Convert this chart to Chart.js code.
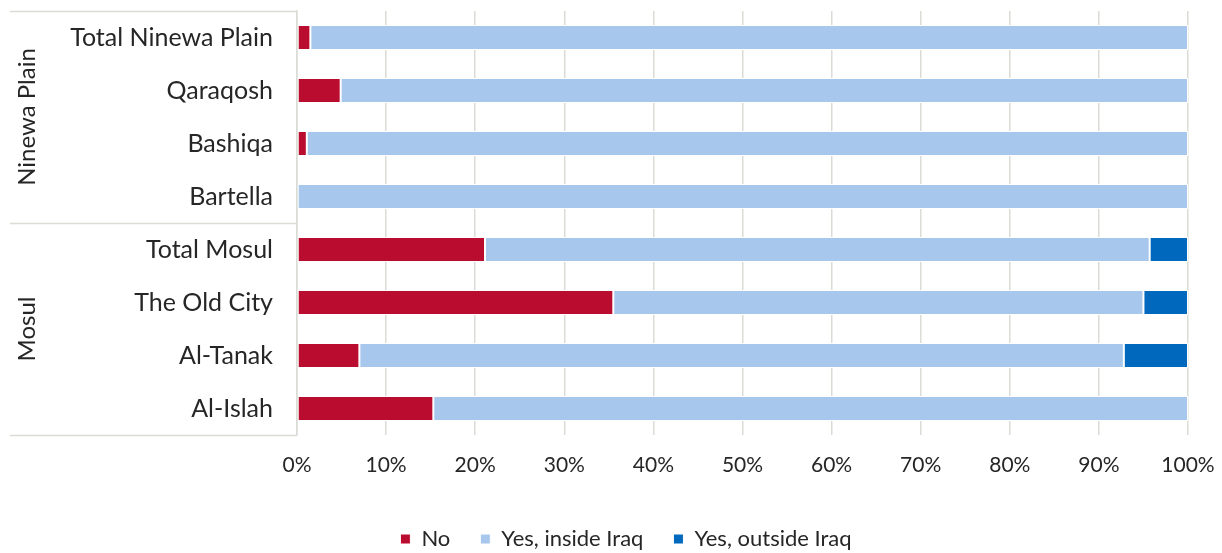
<!DOCTYPE html>
<html>
<head>
<meta charset="utf-8">
<script src="https://cdn.jsdelivr.net/npm/chart.js@4/dist/chart.umd.min.js"></script>
<style>
  html, body { margin: 0; padding: 0; background: #ffffff; }
  #wrap { position: relative; width: 1222px; height: 553px; }
</style>
</head>
<body>
<div id="wrap"><canvas id="c"></canvas></div>
<script>
// ---- data ----
const categories = ['Total Ninewa Plain', 'Qaraqosh', 'Bashiqa', 'Bartella', 'Total Mosul', 'The Old City', 'Al-Tanak', 'Al-Islah'];
const groupNames = ['Ninewa Plain', 'Mosul'];
const groupSizes = [4, 4];
const seriesNames = ['No', 'Yes, inside Iraq', 'Yes, outside Iraq'];
const noValues = [1.5, 4.9, 1.1, 0, 21.1, 35.5, 7.0, 15.3];
const insideValues = [98.5, 95.1, 98.9, 100, 74.6, 59.5, 85.8, 84.7];
const outsideValues = [0, 0, 0, 0, 4.3, 5.0, 7.2, 0];
const xTickValues = [0, 10, 20, 30, 40, 50, 60, 70, 80, 90, 100];

// ---- style ----
const FONT = 'Lato, "Open Sans", sans-serif';
const TEXT = '#262626';
const GRID = '#d9ddd6';
const colors = ['#BA0C2F', '#A8C7EC', '#0068BD'];

const groupPlugin = {
  id: 'groupAxis',
  afterDraw(chart) {
    const ctx = chart.ctx;
    const y = chart.scales.y;
    const left = 10;
    const right = chart.chartArea.left;
    ctx.save();
    ctx.strokeStyle = GRID;
    ctx.lineWidth = 1.5;
    let start = 0;
    const bounds = [start];
    groupSizes.forEach(s => { start += s; bounds.push(start); });
    bounds.forEach(b => {
      const py = Math.round(y.getPixelForValue(b - 0.5)) + 0.5;
      ctx.beginPath();
      ctx.moveTo(left, py);
      ctx.lineTo(right, py);
      ctx.stroke();
    });
    ctx.fillStyle = TEXT;
    ctx.font = '24px ' + FONT;
    ctx.textAlign = 'center';
    ctx.textBaseline = 'middle';
    groupNames.forEach((name, i) => {
      const y0 = y.getPixelForValue(bounds[i] - 0.5);
      const y1 = y.getPixelForValue(bounds[i + 1] - 0.5);
      ctx.save();
      ctx.translate(27, (y0 + y1) / 2);
      ctx.rotate(-Math.PI / 2);
      ctx.fillText(name, 0, 0);
      ctx.restore();
    });
    ctx.restore();
  }
};

const mk = (label, data, color) => ({
  label, data,
  backgroundColor: color,
  borderColor: '#ffffff',
  borderWidth: 1,
  borderSkipped: false,
  barPercentage: 0.47,
  categoryPercentage: 1.0
});

new Chart(document.getElementById('c'), {
  type: 'bar',
  data: {
    labels: categories,
    datasets: [
      mk(seriesNames[0], noValues, colors[0]),
      mk(seriesNames[1], insideValues, colors[1]),
      mk(seriesNames[2], outsideValues, colors[2])
    ]
  },
  options: {
    indexAxis: 'y',
    responsive: true,
    maintainAspectRatio: false,
    animation: false,
    layout: { padding: { top: 11, right: 34, left: 64, bottom: -7 } },
    scales: {
      x: {
        stacked: true,
        min: 0, max: 100,
        afterBuildTicks: s => { s.ticks = xTickValues.map(v => ({ value: v })); },
        afterFit: s => { s.height = 63; s.paddingLeft = 0; s.paddingRight = 0; },
        ticks: {
          padding: 18,
          color: TEXT,
          font: { family: FONT, size: 21 },
          callback: v => v + '%'
        },
        grid: { color: GRID, lineWidth: 1.5, drawTicks: false },
        border: { display: false }
      },
      y: {
        stacked: true,
        afterFit: s => { s.width = 233; s.paddingTop = 0; s.paddingBottom = 0; },
        ticks: {
          padding: 24,
          color: TEXT,
          font: { family: FONT, size: 25 }
        },
        grid: { display: false, drawTicks: false },
        border: { display: true, color: GRID, width: 1.5 }
      }
    },
    plugins: {
      legend: {
        position: 'bottom',
        labels: {
          boxWidth: 10, boxHeight: 10,
          padding: 30,
          color: TEXT,
          font: { family: FONT, size: 22 }
        }
      },
      tooltip: { enabled: false }
    }
  },
  plugins: [groupPlugin]
});
</script>
</body>
</html>
